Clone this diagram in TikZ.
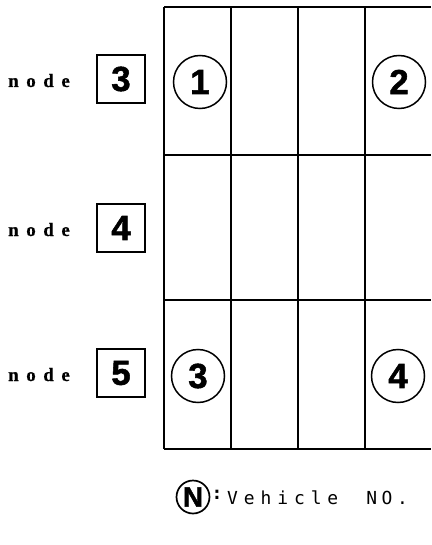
\documentclass[tikz,border=0pt]{standalone}
\usepackage{fontspec}
\newfontfamily\numfont[FakeBold=1.5]{Liberation Sans Bold}
\newfontfamily\lblfont[LetterSpace=40,FakeBold=0.8]{Liberation Serif Bold}
\newfontfamily\vehfont[LetterSpace=33]{DejaVu Sans Mono}
\newfontfamily\nofont[LetterSpace=25]{DejaVu Sans Mono}
\begin{document}
\begin{tikzpicture}[x=1bp,y=-1bp,
  gridline/.style={line width=1.6bp},
  numbox/.style={draw,line width=1.5bp,minimum width=48bp,minimum height=48bp,inner sep=0pt,font=\numfont\fontsize{35}{35}\selectfont},
  veh/.style={draw,circle,line width=1.5bp,minimum size=53bp,inner sep=0pt,font=\numfont\fontsize{35}{35}\selectfont},
  nodelbl/.style={inner sep=0pt,font=\lblfont\fontsize{19}{19}\selectfont},
]
\useasboundingbox (0,0) rectangle (431,545);
% grid
\foreach \x in {164,231,298,365}
  \draw[gridline] (\x,7) -- (\x,449);
\foreach \y in {7,155,300,449}
  \draw[gridline] (164,\y) -- (431,\y);
% node labels
\node[nodelbl,anchor=base west] (l3) at (8,87) {node};
\node[nodelbl,anchor=base west] (l4) at (8,236) {node};
\node[nodelbl,anchor=base west] (l5) at (8,381) {node};
\node[numbox] (b3) at (121,79) {3};
\node[numbox] (b4) at (121,228) {4};
\node[numbox] (b5) at (121,373) {5};
% vehicles
\node[veh] (v1) at (200,82) {1};
\node[veh] (v2) at (399,82) {2};
\node[veh] (v3) at (198,376) {3};
\node[veh] (v4) at (398,376) {4};
% legend
\node[draw,circle,line width=1.7bp,minimum size=33bp,inner sep=0pt,font=\numfont\fontsize{28}{28}\selectfont] (vn) at (193,497) {N};
\node[inner sep=0pt,font=\nofont\bfseries\fontsize{18}{18}\selectfont] (colon) at (217,495) {:};
\node[anchor=base west,inner sep=0pt,font=\vehfont\fontsize{18}{18}\selectfont] (vtxt) at (227,504) {Vehicle};
\node[anchor=base east,inner sep=0pt,font=\nofont\fontsize{18}{18}\selectfont] (notxt) at (408,504) {NO.};
\end{tikzpicture}
\end{document}
